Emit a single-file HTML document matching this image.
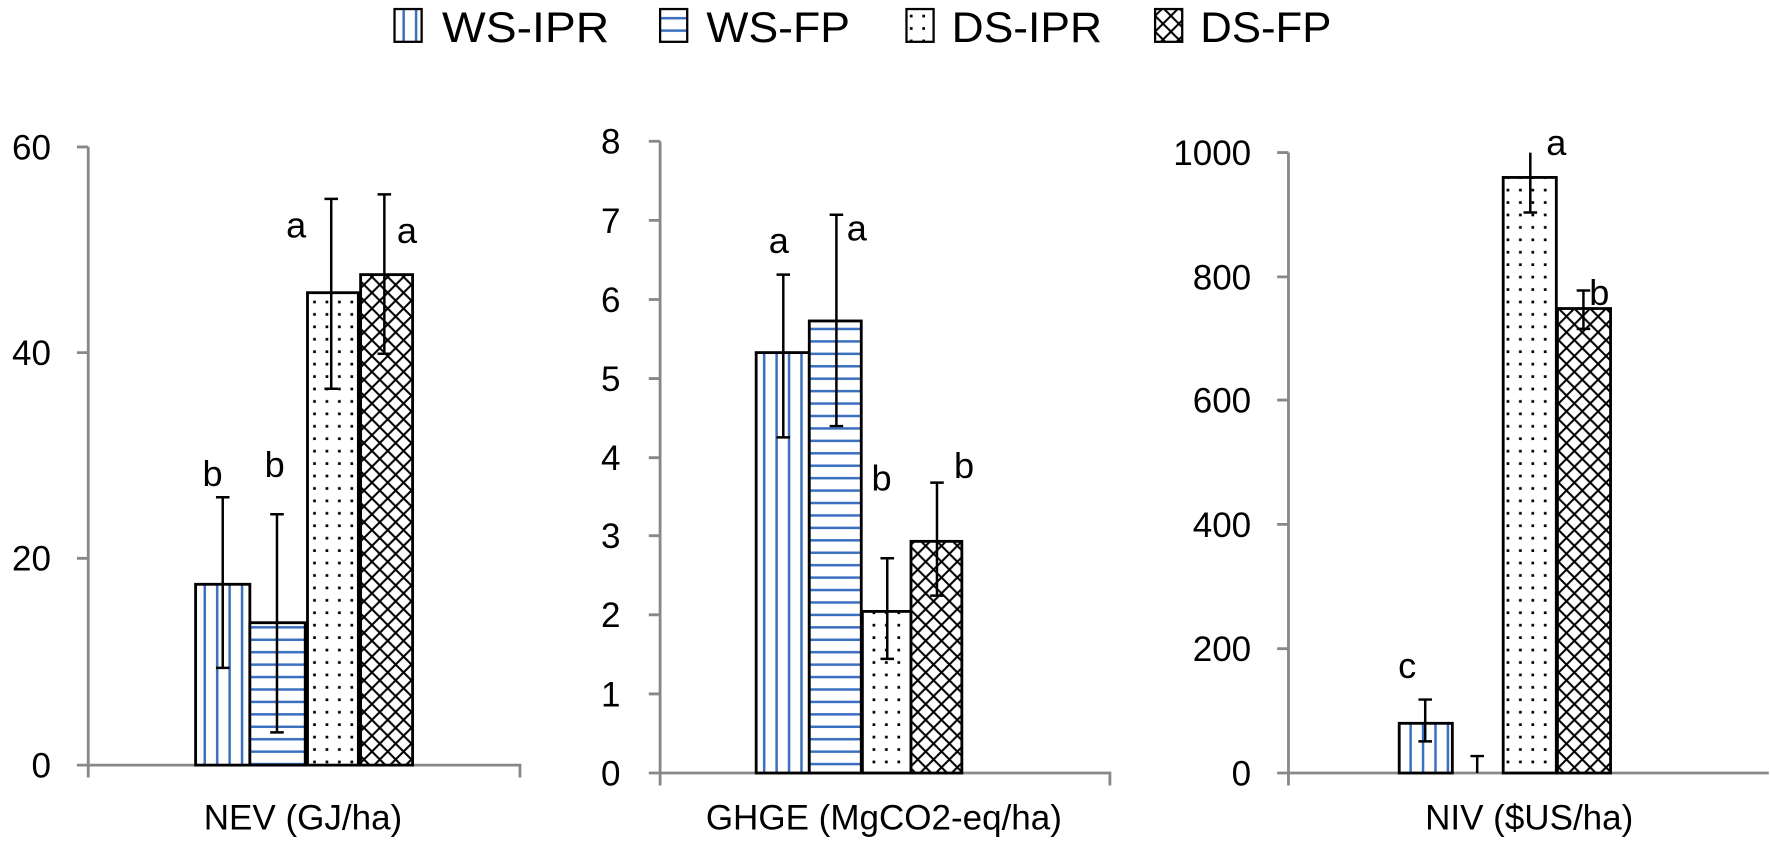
<!DOCTYPE html>
<html><head><meta charset="utf-8"><style>html,body{margin:0;padding:0;background:#fff}svg{display:block}</style></head>
<body>
<svg width="1770" height="851" viewBox="0 0 1566 753" xmlns="http://www.w3.org/2000/svg" font-family="Liberation Sans, sans-serif">
<defs>
<pattern id="pv" width="11" height="10" patternUnits="userSpaceOnUse"><rect width="11" height="10" fill="#fff"/><rect x="4" y="0" width="2.2" height="10" fill="#3a6fc0"/></pattern>
<pattern id="ph" width="10" height="11" patternUnits="userSpaceOnUse"><rect width="10" height="11" fill="#fff"/><rect x="0" y="4" width="10" height="2.2" fill="#3a6fc0"/></pattern>
<pattern id="pd" width="11" height="11" patternUnits="userSpaceOnUse"><rect width="11" height="11" fill="#fff"/><rect x="2" y="2" width="2.4" height="2.4" fill="#000"/></pattern>
<pattern id="px" width="14" height="14" patternUnits="userSpaceOnUse"><rect width="14" height="14" fill="#fff"/><path d="M0 0L14 14M14 0L0 14" stroke="#000" stroke-width="1.8"/></pattern>
</defs>
<g font-size="38" fill="#000">
<rect x="349" y="8" width="24" height="29" fill="url(#pv)" stroke="#000" stroke-width="2"/><text x="391" y="37" textLength="148" lengthAdjust="spacingAndGlyphs">WS-IPR</text>
<rect x="584" y="8" width="24" height="29" fill="url(#ph)" stroke="#000" stroke-width="2"/><text x="625" y="37" textLength="127" lengthAdjust="spacingAndGlyphs">WS-FP</text>
<rect x="802" y="8" width="24" height="29" fill="url(#pd)" stroke="#000" stroke-width="2"/><text x="842" y="37" textLength="133" lengthAdjust="spacingAndGlyphs">DS-IPR</text>
<rect x="1022" y="8" width="24" height="29" fill="url(#px)" stroke="#000" stroke-width="2"/><text x="1062" y="37" textLength="116" lengthAdjust="spacingAndGlyphs">DS-FP</text>
</g>
<g stroke="#888" stroke-width="2.5" fill="none">
<path d="M78 130V688M68 130H78M68 312H78M68 494H78M68 677H460V688"/>
<path d="M584 125V695M574 125H584M574 195H584M574 265H584M574 335H584M574 405H584M574 474H584M574 544H584M574 614H584M574 684H982V695"/>
<path d="M1140 135V695M1130 135H1140M1130 245H1140M1130 354H1140M1130 464H1140M1130 574H1140M1130 684H1565"/>
</g>
<g font-size="31" fill="#000" text-anchor="end">
<text x="45" y="141">60</text><text x="45" y="323">40</text><text x="45" y="505">20</text><text x="45" y="688">0</text>
<text x="549" y="136">8</text><text x="549" y="206">7</text><text x="549" y="276">6</text><text x="549" y="346">5</text><text x="549" y="416">4</text><text x="549" y="485">3</text><text x="549" y="555">2</text><text x="549" y="625">1</text><text x="549" y="695">0</text>
<text x="1107" y="146">1000</text><text x="1107" y="256">800</text><text x="1107" y="365">600</text><text x="1107" y="475">400</text><text x="1107" y="585">200</text><text x="1107" y="695">0</text>
</g>
<g stroke="#000" stroke-width="2.5">
<rect x="173" y="517" width="48" height="160" fill="url(#pv)"/>
<rect x="221" y="551" width="49" height="126" fill="url(#ph)"/>
<rect x="272" y="259" width="45" height="418" fill="url(#pd)"/>
<rect x="319" y="243" width="46" height="434" fill="url(#px)"/>
<rect x="669" y="312" width="47" height="372" fill="url(#pv)"/>
<rect x="716" y="284" width="46" height="400" fill="url(#ph)"/>
<rect x="763" y="541" width="43" height="143" fill="url(#pd)"/>
<rect x="806" y="479" width="45" height="205" fill="url(#px)"/>
<rect x="1238" y="640" width="47" height="44" fill="url(#pv)"/>
<rect x="1330" y="157" width="47" height="527" fill="url(#pd)"/>
<rect x="1378" y="273" width="47" height="411" fill="url(#px)"/>
</g>
<g stroke="#000" stroke-width="2.2" fill="none">
<path d="M197 591V440M191 591H203M191 440H203"/>
<path d="M245 648V455M239 648H251M239 455H251"/>
<path d="M293 344V176M287 344H299M287 176H299"/>
<path d="M340 313V172M334 313H346M334 172H346"/>
<path d="M693 387V243M687 387H699M687 243H699"/>
<path d="M740 377V190M734 377H746M734 190H746"/>
<path d="M785 583V494M779 583H791M779 494H791"/>
<path d="M829 527V427M823 527H835M823 427H835"/>
<path d="M1261 656V619M1255 656H1267M1255 619H1267"/>
<path d="M1307 684V669M1301 669H1313"/>
<path d="M1354 188V135M1348 188H1360"/>
<path d="M1401 291V257M1395 291H1407M1395 257H1407"/>
</g>
<g font-size="32" fill="#000" text-anchor="middle">
<text x="188" y="430">b</text><text x="243" y="422">b</text><text x="262" y="210">a</text><text x="360" y="215">a</text>
<text x="689" y="224">a</text><text x="758" y="213">a</text><text x="780" y="434">b</text><text x="853" y="423">b</text>
<text x="1245" y="600">c</text><text x="1377" y="137">a</text><text x="1415" y="270">b</text>
</g>
<g font-size="31" fill="#000" text-anchor="middle">
<text x="268" y="734">NEV (GJ/ha)</text>
<text x="782" y="734">GHGE (MgCO2-eq/ha)</text>
<text x="1353" y="734">NIV ($US/ha)</text>
</g>
</svg>
</body></html>
